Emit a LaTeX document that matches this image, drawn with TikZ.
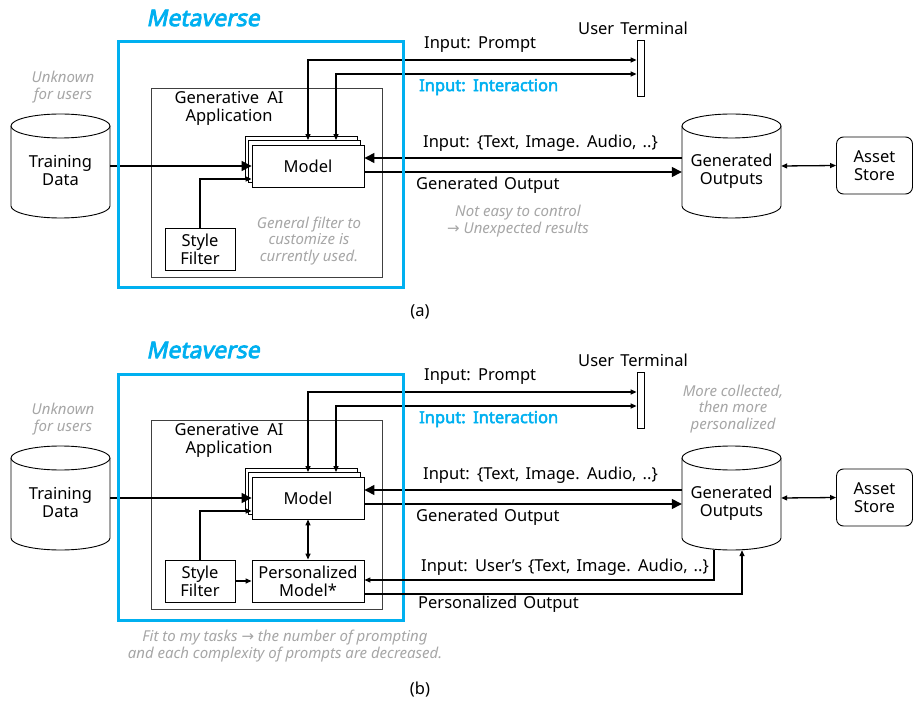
\documentclass[tikz,border=0pt]{standalone}
\usepackage{fontspec}
\setmainfont[WordSpace=1.4]{Noto Sans}
\newfontfamily\notefont{Noto Sans}
\newfontfamily\boldsans[WordSpace=1.4,FakeBold=3]{Noto Sans}
\newfontfamily\boldital[FakeBold=3.5,FakeSlant=0.2]{Noto Sans}
\newfontfamily\arrowfont{DejaVu Sans}
\usetikzlibrary{arrows.meta}
\definecolor{mvblue}{HTML}{00B0F0}
\definecolor{notegray}{HTML}{A6A6A6}
\definecolor{framegray}{HTML}{404040}

\newcommand\drawcyl[3]{%
  \fill[white] ({#1-49.5},{#2+12}) -- ({#1-49.5},{#3-12}) arc[start angle=180,end angle=360,x radius=49.5pt,y radius=12pt] -- ({#1+49.5},{#2+12}) -- cycle;
  \draw[line width=0.9pt] ({#1-49.5},{#2+12}) -- ({#1-49.5},{#3-12}) arc[start angle=180,end angle=360,x radius=49.5pt,y radius=12pt] -- ({#1+49.5},{#2+12});
  \draw[line width=0.9pt, fill=white] (#1,{#2+12}) ellipse[x radius=49.5pt,y radius=12pt];
}

\newcommand\commonpart[1]{%
  \drawcyl{60.5}{114}{218}
  \drawcyl{731.5}{114}{218}
  \node[geom, minimum width=99pt, minimum height=104pt] (td#1) at (60.5,166) {};
  \node[txt] at (60.5,171) {Training\\Data};
  \node[geom, minimum width=99pt, minimum height=104pt] (go#1) at (731.5,166) {};
  \node[txt] at (731.5,171) {Generated\\Outputs};
  \node[box, rounded corners=7pt, minimum width=76pt, minimum height=57pt] (as#1) at (874.5,165.5) {Asset\\Store};
  \node[appbox, minimum width=231pt, minimum height=189pt] (app#1) at (266.5,182.5) {};
  \node[txt] at (229,108) {Generative\hspace{0.5em}AI\\Application};
  \node[box, minimum width=112pt, minimum height=42pt] (modelc#1) at (301,157) {};
  \node[box, minimum width=112pt, minimum height=42pt] (modelb#1) at (304.5,161.5) {};
  \node[box, minimum width=112pt, minimum height=42pt] (model#1) at (308,166) {Model};
  \node[box, minimum width=70pt, minimum height=42pt] (sf#1) at (200,249) {Style\\Filter};
  \node[draw, line width=0.8pt, minimum width=7pt, minimum height=56pt, inner sep=0pt] (ut#1) at (640.5,68) {};
  \node[txt] at (633,28) {User Terminal};
  % connectors
  \draw[big] (td#1.east) -- (model#1.west);
  \draw[small] (sf#1.north) |- ([yshift=-13pt]model#1.west);
  \draw[both] (model#1.north |- modelb#1.north) |- ([yshift=8pt]ut#1.west);
  \draw[both] ([xshift=28pt]model#1.north |- modelb#1.north) |- ([yshift=-6pt]ut#1.west);
  \draw[big] ([yshift=8pt]go#1.west) -- ([yshift=8pt]model#1.east);
  \draw[big] ([yshift=-6pt]model#1.east) -- ([yshift=-6pt]go#1.west);
  \draw[both] (go#1.east) -- (as#1.west);
  % labels
  \node[txt, anchor=west] at (424,45) {Input: Prompt};
  \node[inner sep=0pt, anchor=west, text=mvblue, font=\boldsans\fontsize{16.5}{18}\selectfont] at (419,87) {Input: Interaction};
  \node[txt, anchor=west] at (423,143) {Input: \{Text, Image. Audio, ..\}};
  \node[txt, anchor=west] at (416,185) {Generated Output};
  \node[notetxt] at (63,87) {Unknown\\for users};
  \node[mvtitle] at (203,18) {Metaverse};
  \node[mvbox, minimum width=285pt, minimum height=246pt] (meta#1) at (260.5,165) {};
}

\begin{document}
\begin{tikzpicture}[x=1pt,y=-1pt,
  txt/.style={font=\fontsize{16.5}{18}\selectfont, inner sep=0pt, align=center},
  notetxt/.style={font=\notefont\fontsize{15}{16.5}\selectfont\itshape, text=notegray, inner sep=0pt, align=center},
  box/.style={draw, line width=0.9pt, fill=white, inner sep=0pt, font=\fontsize{16.5}{18}\selectfont, align=center},
  geom/.style={inner sep=0pt},
  appbox/.style={draw=framegray, line width=0.8pt, inner sep=0pt},
  mvbox/.style={draw=mvblue, line width=3pt, inner sep=0pt},
  mvtitle/.style={font=\boldital\fontsize{23}{24}\selectfont, text=mvblue, inner sep=0pt},
  conn/.style={line width=1.3pt},
  big/.style={conn, -{Triangle[length=10pt,width=10pt]}},
  small/.style={conn, -{Triangle[length=6pt,width=5pt]}},
  both/.style={conn, {Triangle[length=6pt,width=5pt]}-{Triangle[length=6pt,width=5pt]}}
]
\useasboundingbox (0,0) rectangle (913,703);

% ---------- panel (a)
\commonpart{a}
\node[notetxt] at (309,241) {General filter to\\customize is\\currently used.};
\node[notetxt] at (518,221) {Not easy to control\\{\arrowfont →} Unexpected results};
\node[txt] at (420,312) {(a)};

% ---------- panel (b)
\begin{scope}[yshift=-332pt]
\commonpart{b}
\node[box, minimum width=112pt, minimum height=42pt] (pm) at (308,249) {Personalized\\Model*};
\draw[both] (modelb.south) -- (pm.north);
\draw[small] (sfb.east) -- (pm.west);
\draw[small] ([xshift=-17.5pt]gob.south) |- ([yshift=1pt]pm.east);
\draw[small] ([yshift=-13pt]pm.east) -| ([xshift=10.5pt]gob.south);
\node[txt, anchor=west] at (421,235) {Input: User's \{Text, Image. Audio, ..\}};
\node[txt, anchor=west] at (418,272) {Personalized Output};
\node[notetxt] at (733,77) {More collected,\\then more\\personalized};
\node[notetxt] at (285,314) {Fit to my tasks {\arrowfont →} the number of prompting\\and each complexity of prompts are decreased.};
\node[txt] at (420,358) {(b)};
\end{scope}
\end{tikzpicture}
\end{document}
